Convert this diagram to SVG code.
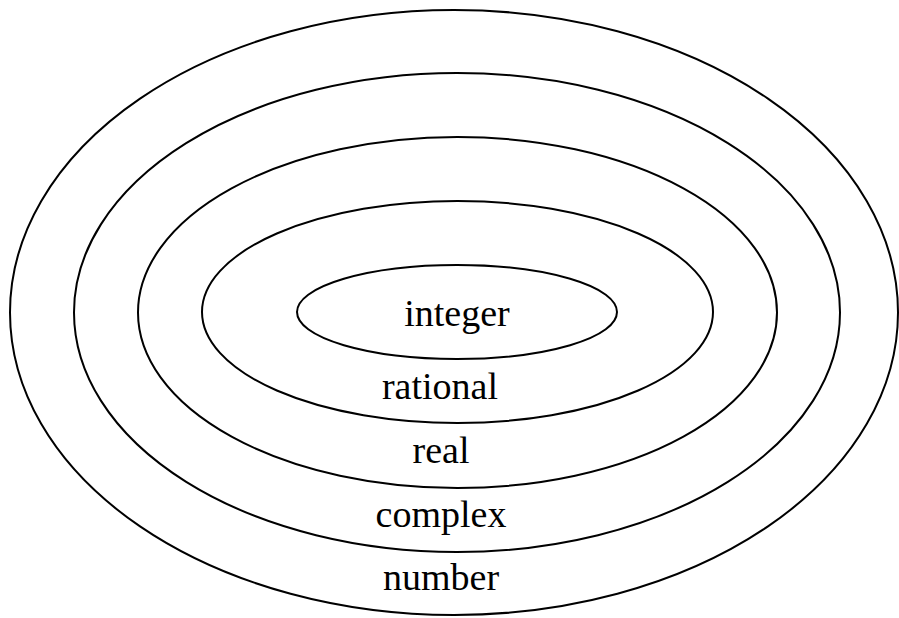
<svg xmlns="http://www.w3.org/2000/svg" width="899" height="618" viewBox="0 0 899 618">
<style>
ellipse{fill:none;stroke:#000;stroke-width:2}
text{font-family:"Liberation Serif","Times New Roman",serif;font-size:38px;fill:#000;text-anchor:middle}
</style>
<rect width="899" height="618" fill="#fff"/>
<g id="number"><ellipse cx="454" cy="312.5" rx="444" ry="302.5"/><text x="441" y="590">number</text></g>
<g id="complex"><ellipse cx="457" cy="312.5" rx="383" ry="239.5"/><text x="441" y="527">complex</text></g>
<g id="real"><ellipse cx="457.5" cy="312.5" rx="319.5" ry="175.5"/><text x="441" y="463">real</text></g>
<g id="rational"><ellipse cx="457.5" cy="312" rx="255.5" ry="111"/><text x="440" y="399">rational</text></g>
<g id="integer"><ellipse cx="457" cy="312" rx="160" ry="47"/><text x="457" y="326">integer</text></g>
<g id="connectors"/>
</svg>
